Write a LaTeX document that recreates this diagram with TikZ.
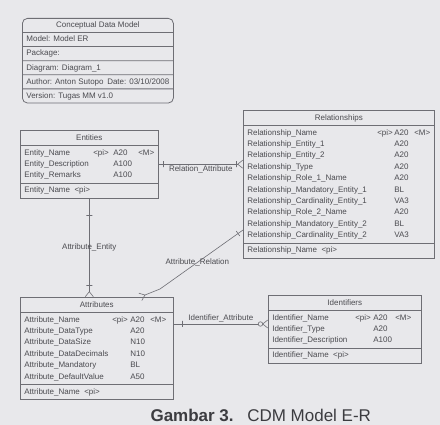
\documentclass[tikz,border=0pt]{standalone}
\usepackage{fontspec}
\setmainfont{Liberation Sans}
\usepackage{array}
\usetikzlibrary{
    arrows.meta,
    calc,
    shapes.multipart
}
\definecolor{paper}{RGB}{232,232,235}
\definecolor{ink}{RGB}{75,75,80}
\definecolor{rule}{RGB}{110,110,116}

\begin{document}
\begin{tikzpicture}[x=1pt,y=-1pt,
    table/.style={rectangle split, rectangle split parts=3, draw=rule, line width=0.6pt,
        inner xsep=4pt, inner ysep=1.5pt, anchor=north west, text=ink,
        font=\fontsize{8}{11.4}\selectfont},
    titlebox/.style={rectangle split, rectangle split parts=6, draw=rule, line width=0.8pt,
        rounded corners=5pt, inner xsep=4pt, inner ysep=0.95pt, anchor=north west, text=ink,
        font=\fontsize{8}{11.4}\selectfont},
    link/.style={draw=rule, line width=0.6pt},
    crowfoot/.style={-{Straight Barb[reversed,length=5pt,width=8pt]}},
    linkbar/.style={draw=rule, line width=0.6pt, minimum width=0pt, minimum height=6pt,
        inner sep=0pt, sloped},
    linkring/.style={circle, draw=rule, fill=paper, line width=0.6pt, minimum size=4.5pt,
        inner sep=0pt},
    linklabel/.style={text=ink, font=\fontsize{8}{9}\selectfont, inner sep=1.5pt}
]
\fill[paper] (0,0) rectangle (440,425);

\node[titlebox] (cdm) at (22,18) {\makebox[143pt]{Conceptual Data Model\strut}
    \nodepart{two}\makebox[143pt][l]{Model: Model ER\strut}
    \nodepart{three}\makebox[143pt][l]{Package:\strut}
    \nodepart{four}\makebox[143pt][l]{Diagram: Diagram\_1\strut}
    \nodepart{five}\makebox[143pt][l]{Author: Anton Sutopo\hfill Date: 03/10/2008\strut}
    \nodepart{six}\makebox[143pt][l]{Version: Tugas MM v1.0\strut}};

\node[table] (ent) at (20,130) {\makebox[130pt]{Entities\strut}
    \nodepart{two}\begin{tabular}{@{}p{69pt}@{}p{20pt}@{}p{25pt}@{}p{16pt}@{}}
    Entity\_Name & <pi> & A20 & <M>\\
    Entity\_Description & & A100 & \\
    Entity\_Remarks & & A100 &
    \end{tabular}
    \nodepart{three}\makebox[130pt][l]{Entity\_Name \ <pi>\strut}};

\node[table] (rel) at (243,110) {\makebox[183pt]{Relationships\strut}
    \nodepart{two}\begin{tabular}{@{}p{130pt}@{}p{17pt}@{}p{20pt}@{}p{16pt}@{}}
    Relationship\_Name & <pi> & A20 & <M>\\
    Relationship\_Entity\_1 & & A20 & \\
    Relationship\_Entity\_2 & & A20 & \\
    Relationship\_Type & & A20 & \\
    Relationship\_Role\_1\_Name & & A20 & \\
    Relationship\_Mandatory\_Entity\_1 & & BL & \\
    Relationship\_Cardinality\_Entity\_1 & & VA3 & \\
    Relationship\_Role\_2\_Name & & A20 & \\
    Relationship\_Mandatory\_Entity\_2 & & BL & \\
    Relationship\_Cardinality\_Entity\_2 & & VA3 &
    \end{tabular}
    \nodepart{three}\makebox[183pt][l]{Relationship\_Name \ <pi>\strut}};

\node[table] (attr) at (20,297) {\makebox[145pt]{Attributes\strut}
    \nodepart{two}\begin{tabular}{@{}p{88pt}@{}p{18pt}@{}p{20pt}@{}p{19pt}@{}}
    Attribute\_Name & <pi> & A20 & <M>\\
    Attribute\_DataType & & A20 & \\
    Attribute\_DataSize & & N10 & \\
    Attribute\_DataDecimals & & N10 & \\
    Attribute\_Mandatory & & BL & \\
    Attribute\_DefaultValue & & A50 &
    \end{tabular}
    \nodepart{three}\makebox[145pt][l]{Attribute\_Name \ <pi>\strut}};

\node[table] (iden) at (268,295) {\makebox[145pt]{Identifiers\strut}
    \nodepart{two}\begin{tabular}{@{}p{83pt}@{}p{18pt}@{}p{22pt}@{}p{22pt}@{}}
    Identifier\_Name & <pi> & A20 & <M>\\
    Identifier\_Type & & A20 & \\
    Identifier\_Description & & A100 &
    \end{tabular}
    \nodepart{three}\makebox[145pt][l]{Identifier\_Name \ <pi>\strut}};

\draw[link, crowfoot] (ent.east) -- (ent.east -| rel.west)
    node[linkbar, pos=0.05] (ra1) {}
    node[linkbar, pos=0.92] (ra2) {}
    node[linklabel, midway, below] (ralbl) {Relation\_Attribute};

\draw[link, crowfoot] (ent.south) -- (ent.south |- attr.north)
    node[linkbar, pos=0.17] (ae1) {}
    node[linkbar, pos=0.88] (ae2) {}
    node[linklabel, midway] (aelbl) {Attribute\_Entity};

\coordinate (arstart) at ($(rel.north west)+(0,120)$);
\coordinate (arbend) at ($(attr.north west)+(140,-8)$);
\coordinate (arend) at ($(attr.north west)+(120,0)$);
\draw[link, crowfoot] (arstart) -- node[linkbar, pos=0.06] (ar1) {}
    node[linklabel, pos=0.55] (arlbl) {Attribute\_Relation} (arbend) -- (arend);

\coordinate (idstart) at ($(attr.north east)+(0,27)$);
\draw[link, crowfoot] (idstart) -- (idstart -| iden.west)
    node[linkbar, pos=0.09] (ia1) {}
    node[linkring, pos=0.92] (ia2) {}
    node[linklabel, midway, above] (ialbl) {Identifier\_Attribute};

\node[anchor=base west, text=ink!80!black, font=\fontsize{17}{20}\selectfont] (cap) at (147,421)
    {\textbf{Gambar 3.}\hspace{0.8em}CDM Model E-R};
\end{tikzpicture}
\end{document}
